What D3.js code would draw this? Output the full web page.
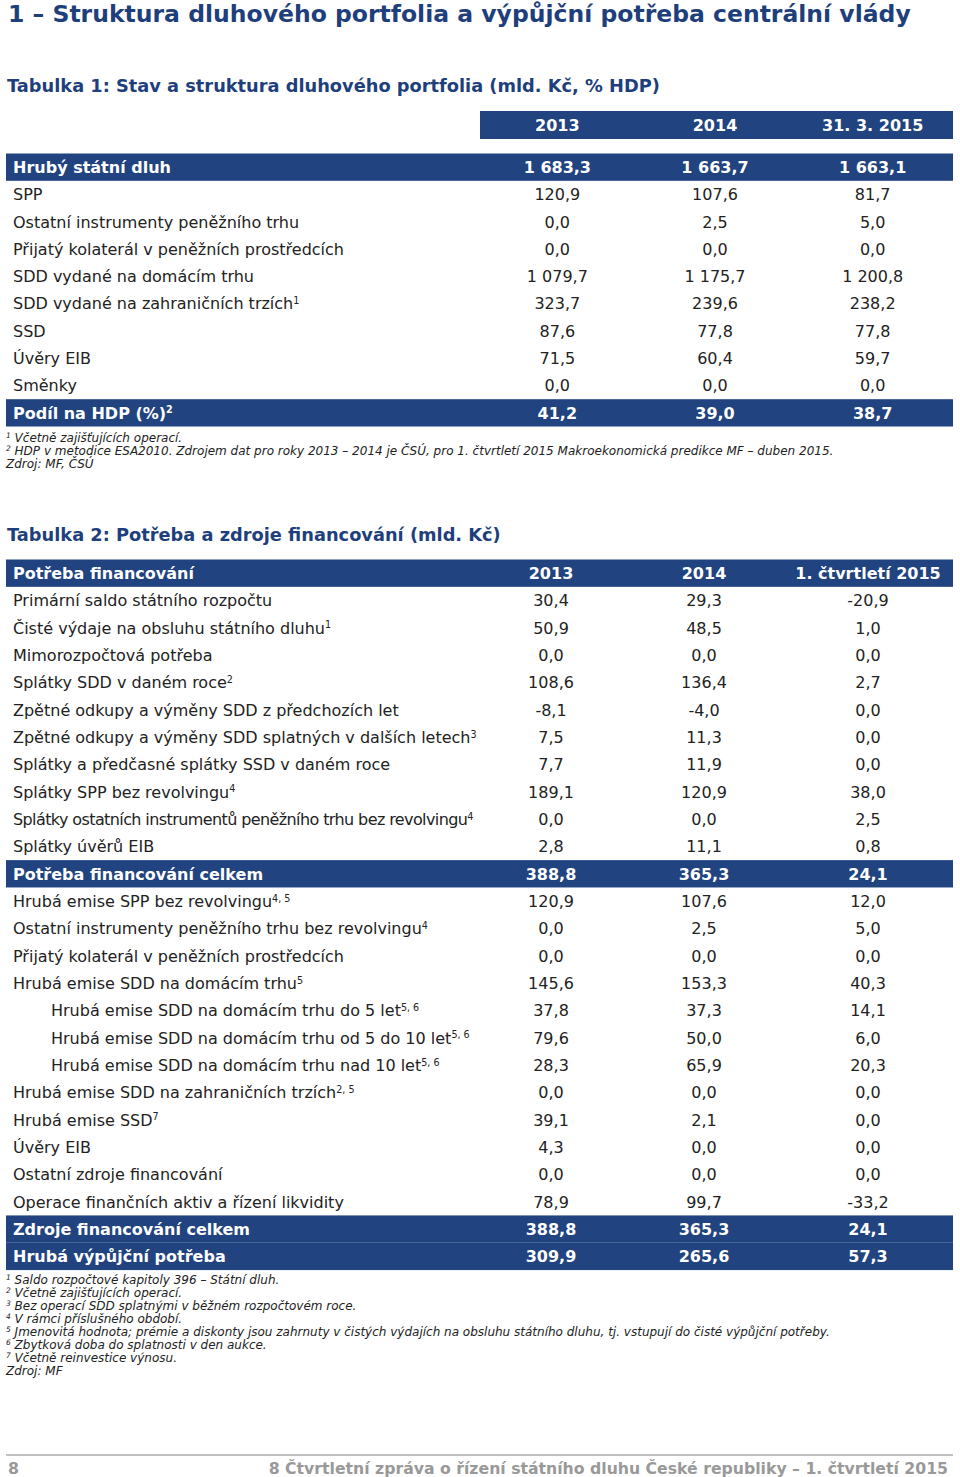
<!DOCTYPE html>
<html>
<head>
<meta charset="utf-8">
<script src="https://cdn.jsdelivr.net/npm/d3@7"></script>
<style>
  body { margin: 0; background: #fff; }
  svg text { font-family: "DejaVu Sans", Verdana, sans-serif; }
</style>
</head>
<body>
<svg id="page" width="960" height="1477"></svg>
<script>
// ---- data ----
var t1Columns = ["2013", "2014", "31. 3. 2015"];
var t1Labels = ["Hrubý státní dluh", "SPP", "Ostatní instrumenty peněžního trhu",
  "Přijatý kolaterál v peněžních prostředcích", "SDD vydané na domácím trhu",
  "SDD vydané na zahraničních trzích", "SSD", "Úvěry EIB", "Směnky", "Podíl na HDP (%)"];
var t1Sup = ["", "", "", "", "", "1", "", "", "", "2"];
var t1Bold = [1, 0, 0, 0, 0, 0, 0, 0, 0, 1];
var t1_2013 = [1683.3, 120.9, 0.0, 0.0, 1079.7, 323.7, 87.6, 71.5, 0.0, 41.2];
var t1_2014 = [1663.7, 107.6, 2.5, 0.0, 1175.7, 239.6, 77.8, 60.4, 0.0, 39.0];
var t1_2015 = [1663.1, 81.7, 5.0, 0.0, 1200.8, 238.2, 77.8, 59.7, 0.0, 38.7];
var t1Notes = [
  ["1", "Včetně zajišťujících operací."],
  ["2", "HDP v metodice ESA2010. Zdrojem dat pro roky 2013 – 2014 je ČSÚ, pro 1. čtvrtletí 2015 Makroekonomická predikce MF – duben 2015."],
  ["", "Zdroj: MF, ČSÚ"]
];

var t2Columns = ["2013", "2014", "1. čtvrtletí 2015"];
var t2Labels = ["Potřeba financování", "Primární saldo státního rozpočtu",
  "Čisté výdaje na obsluhu státního dluhu", "Mimorozpočtová potřeba",
  "Splátky SDD v daném roce", "Zpětné odkupy a výměny SDD z předchozích let",
  "Zpětné odkupy a výměny SDD splatných v dalších letech",
  "Splátky a předčasné splátky SSD v daném roce", "Splátky SPP bez revolvingu",
  "Splátky ostatních instrumentů peněžního trhu bez revolvingu", "Splátky úvěrů EIB",
  "Potřeba financování celkem", "Hrubá emise SPP bez revolvingu",
  "Ostatní instrumenty peněžního trhu bez revolvingu",
  "Přijatý kolaterál v peněžních prostředcích", "Hrubá emise SDD na domácím trhu",
  "Hrubá emise SDD na domácím trhu do 5 let", "Hrubá emise SDD na domácím trhu od 5 do 10 let",
  "Hrubá emise SDD na domácím trhu nad 10 let", "Hrubá emise SDD na zahraničních trzích",
  "Hrubá emise SSD", "Úvěry EIB", "Ostatní zdroje financování",
  "Operace finančních aktiv a řízení likvidity", "Zdroje financování celkem",
  "Hrubá výpůjční potřeba"];
var t2Sup = ["", "", "1", "", "2", "", "3", "", "4", "4", "", "", "4, 5", "4", "", "5",
  "5, 6", "5, 6", "5, 6", "2, 5", "7", "", "", "", "", ""];
var t2Bold = [1, 0, 0, 0, 0, 0, 0, 0, 0, 0, 0, 1, 0, 0, 0, 0, 0, 0, 0, 0, 0, 0, 0, 0, 1, 1];
var t2Indent = [0, 0, 0, 0, 0, 0, 0, 0, 0, 0, 0, 0, 0, 0, 0, 0, 1, 1, 1, 0, 0, 0, 0, 0, 0, 0];
var t2_2013 = [null, 30.4, 50.9, 0.0, 108.6, -8.1, 7.5, 7.7, 189.1, 0.0, 2.8, 388.8, 120.9, 0.0,
  0.0, 145.6, 37.8, 79.6, 28.3, 0.0, 39.1, 4.3, 0.0, 78.9, 388.8, 309.9];
var t2_2014 = [null, 29.3, 48.5, 0.0, 136.4, -4.0, 11.3, 11.9, 120.9, 0.0, 11.1, 365.3, 107.6, 2.5,
  0.0, 153.3, 37.3, 50.0, 65.9, 0.0, 2.1, 0.0, 0.0, 99.7, 365.3, 265.6];
var t2_2015 = [null, -20.9, 1.0, 0.0, 2.7, 0.0, 0.0, 0.0, 38.0, 2.5, 0.8, 24.1, 12.0, 5.0,
  0.0, 40.3, 14.1, 6.0, 20.3, 0.0, 0.0, 0.0, 0.0, -33.2, 24.1, 57.3];
var t2Notes = [
  ["1", "Saldo rozpočtové kapitoly 396 – Státní dluh."],
  ["2", "Včetně zajišťujících operací."],
  ["3", "Bez operací SDD splatnými v běžném rozpočtovém roce."],
  ["4", "V rámci příslušného období."],
  ["5", "Jmenovitá hodnota; prémie a diskonty jsou zahrnuty v čistých výdajích na obsluhu státního dluhu, tj. vstupují do čisté výpůjční potřeby."],
  ["6", "Zbytková doba do splatnosti v den aukce."],
  ["7", "Včetně reinvestice výnosu."],
  ["", "Zdroj: MF"]
];

var pageTitle = "1 – Struktura dluhového portfolia a výpůjční potřeba centrální vlády";
var t1Title = "Tabulka 1: Stav a struktura dluhového portfolia (mld. Kč, % HDP)";
var t2Title = "Tabulka 2: Potřeba a zdroje financování (mld. Kč)";
var footerPage = "8";
var footerText = "8 Čtvrtletní zpráva o řízení státního dluhu České republiky – 1. čtvrtletí 2015";

// ---- setup ----
var blue = "#21437f";
var titleBlue = "#1e3f7c";
var ink = "#222";
var cz = d3.formatLocale({decimal: ",", thousands: "\u00a0", grouping: [3], currency: ["", " Kč"], minus: "-"});
var fmt = cz.format(",.1f");

var svg = d3.select("#page");
var left = 6, right = 953;

svg.append("text").attr("x", 8).attr("y", 22)
  .attr("font-size", 23.5).attr("font-weight", "bold").attr("fill", titleBlue)
  .text(pageTitle);

function label(sel, name, sup, size) {
  sel.append("tspan").text(name);
  if (sup) {
    sel.append("tspan").attr("font-size", size * 0.6).attr("dy", -size * 0.32).text(sup);
  }
}

function drawTable(cfg) {
  var g = svg.append("g");
  var n = cfg.labels.length;
  var y = d3.scaleBand().domain(d3.range(n)).range([cfg.top, cfg.top + n * cfg.step]);
  var x = d3.scaleOrdinal().domain(cfg.columns).range(cfg.centers);
  var series = [cfg.v2013, cfg.v2014, cfg.v2015];

  var rows = g.selectAll("g.row").data(d3.range(n)).join("g").attr("class", "row")
    .attr("transform", function (i) { return "translate(0," + y(i) + ")"; });

  rows.filter(function (i) { return cfg.bold[i]; }).append("rect")
    .attr("x", left).attr("width", right - left).attr("height", y.bandwidth())
    .attr("fill", blue);

  rows.append("text")
    .attr("x", function (i) { return cfg.indent && cfg.indent[i] ? 51 : 13; })
    .attr("y", y.bandwidth() / 2).attr("dy", "0.36em")
    .attr("font-size", cfg.size)
    .attr("font-weight", function (i) { return cfg.bold[i] ? "bold" : null; })
    .attr("fill", function (i) { return cfg.bold[i] ? "#fff" : ink; })
    .attr("letter-spacing", function (i) { return cfg.tight && cfg.tight[i] ? -0.6 : null; })
    .each(function (i) { label(d3.select(this), cfg.labels[i], cfg.sup[i], cfg.size); });

  cfg.columns.forEach(function (c, k) {
    rows.append("text")
      .attr("x", x(c)).attr("y", y.bandwidth() / 2).attr("dy", "0.36em")
      .attr("text-anchor", "middle").attr("font-size", cfg.size)
      .attr("font-weight", function (i) { return cfg.bold[i] ? "bold" : null; })
      .attr("fill", function (i) { return cfg.bold[i] ? "#fff" : ink; })
      .text(function (i) { return series[k][i] == null ? c : fmt(series[k][i]); });
  });
  return y;
}

// ---- table 1 ----
svg.append("text").attr("x", 7).attr("y", 92)
  .attr("font-size", 17.8).attr("font-weight", "bold").attr("fill", titleBlue).text(t1Title);

var head1 = svg.append("g");
head1.append("rect").attr("x", 480).attr("y", 111).attr("width", right - 480).attr("height", 28)
  .attr("fill", blue);
var x1 = d3.scaleBand().domain(t1Columns).range([480, right]);
head1.selectAll("text").data(t1Columns).join("text")
  .attr("x", function (d) { return x1(d) + x1.bandwidth() / 2 - 1.5; }).attr("y", 125).attr("dy", "0.36em")
  .attr("text-anchor", "middle").attr("font-size", 16).attr("font-weight", "bold").attr("fill", "#fff")
  .text(function (d) { return d; });

drawTable({
  labels: t1Labels, sup: t1Sup, bold: t1Bold, columns: t1Columns,
  v2013: t1_2013, v2014: t1_2014, v2015: t1_2015,
  top: 153.5, step: 27.3, size: 16,
  centers: t1Columns.map(function (d) { return x1(d) + x1.bandwidth() / 2 - 1.5; })
});

function notes(list, top) {
  var t = svg.append("g").selectAll("text").data(list).join("text")
    .attr("x", 6).attr("y", function (d, i) { return top + i * 13; })
    .attr("font-size", 12).attr("font-style", "italic").attr("fill", ink);
  t.each(function (d) {
    var s = d3.select(this);
    if (d[0]) s.append("tspan").attr("font-size", 7.5).attr("dy", -4).text(d[0]);
    s.append("tspan").attr("dy", d[0] ? 4 : 0).text((d[0] ? " " : "") + d[1]);
  });
}
notes(t1Notes, 442);

// ---- table 2 ----
svg.append("text").attr("x", 7).attr("y", 541)
  .attr("font-size", 17.8).attr("font-weight", "bold").attr("fill", titleBlue).text(t2Title);

var tight2 = t2Labels.map(function (d) { return d.indexOf("Splátky ostatních") === 0 ? 1 : 0; });
drawTable({
  labels: t2Labels, sup: t2Sup, bold: t2Bold, indent: t2Indent, tight: tight2, columns: t2Columns,
  v2013: t2_2013, v2014: t2_2014, v2015: t2_2015,
  top: 559.5, step: 27.33, size: 16,
  centers: [551, 704, 868]
});

notes(t2Notes, 1284);

// ---- footer ----
svg.append("line").attr("x1", left).attr("x2", right).attr("y1", 1455).attr("y2", 1455)
  .attr("stroke", "#aaa").attr("stroke-width", 1.5);
svg.append("text").attr("x", 8).attr("y", 1474).attr("font-size", 15.7).attr("font-weight", "bold")
  .attr("fill", "#999").text(footerPage);
svg.append("text").attr("x", 948).attr("y", 1474).attr("text-anchor", "end")
  .attr("font-size", 15.7).attr("font-weight", "bold").attr("fill", "#999").text(footerText);
</script>
</body>
</html>
